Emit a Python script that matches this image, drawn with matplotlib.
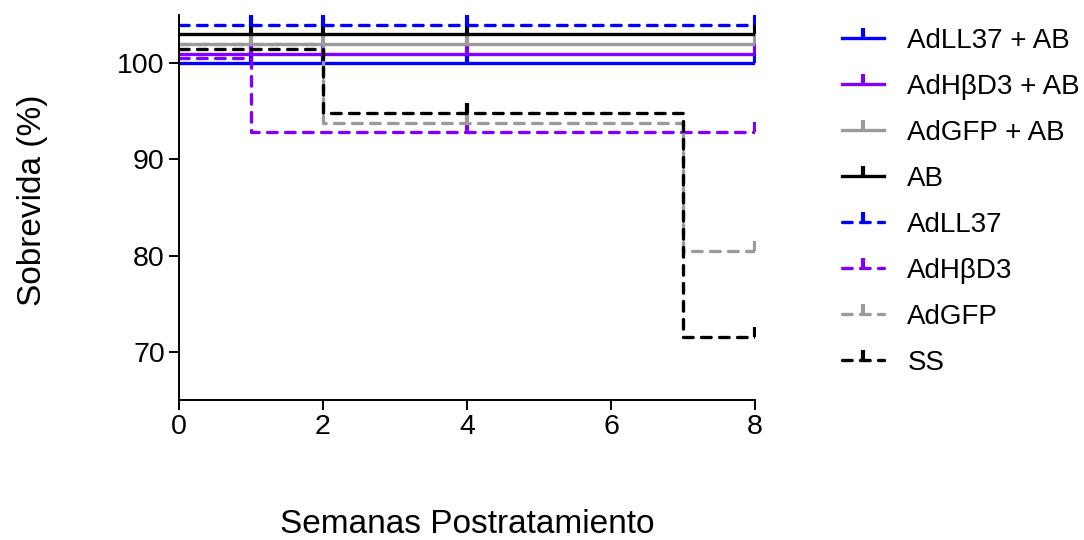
import matplotlib
matplotlib.use("Agg")
import matplotlib.pyplot as plt
import numpy as np
from matplotlib.path import Path
from matplotlib.legend_handler import HandlerTuple

plt.rcParams['font.family'] = ['Liberation Sans', 'DejaVu Sans']

# Kaplan-Meier data (survival %, value holds from each week until the next)
weeks = [0, 1, 2, 4, 7, 8]
groups = ["AdLL37 + AB", "AdH\u03b2D3 + AB", "AdGFP + AB", "AB",
          "AdLL37", "AdH\u03b2D3", "AdGFP", "SS"]
survival = [
    [100, 100, 100, 100, 100, 100],
    [100, 100, 100, 100, 100, 100],
    [100, 100, 100, 100, 100, 100],
    [100, 100, 100, 100, 100, 100],
    [100, 100, 100, 100, 100, 100],
    [100, 92.3, 92.3, 92.3, 92.3, 92.3],
    [100, 100, 91.8, 91.8, 78.5, 78.5],
    [100, 100, 93.3, 93.3, 70.0, 70.0],
]
censored = [
    [1, 2, 4, 8], [1, 2, 4, 8], [1, 2, 4, 8], [1, 2, 4, 8],
    [1, 2, 4, 8], [4, 8], [4, 8], [4, 8],
]

# style (Prism-like staggering of curves so they don't overlap)
offsets = [0, 1.0, 2.0, 3.0, 4.0, 0.5, 2.0, 1.5]
colors = ["#0000FF", "#7F00FF", "#9B9B9B", "#000000",
          "#0000FF", "#7F00FF", "#9B9B9B", "#000000"]
dashed = [False, False, False, False, True, True, True, True]

tick = Path([[0, 0], [0, 1]], [Path.MOVETO, Path.LINETO])

fig = plt.figure(figsize=(10.84, 5.4), dpi=100)
ax = fig.add_axes([179 / 1084, 1 - 400 / 540, 576 / 1084, 385 / 540])

handles = []
for i, name in enumerate(groups):
    y = np.array(survival[i]) + offsets[i]
    ls = (0, (2.9, 2.5)) if dashed[i] else "-"
    ln, = ax.step(weeks, y, where="post", color=colors[i], lw=2.4,
                  linestyle=ls, solid_joinstyle="round",
                  dash_capstyle="round", dash_joinstyle="round")
    cy = [y[np.searchsorted(weeks, c, side="right") - 1] for c in censored[i]]
    mk, = ax.plot(censored[i], cy, linestyle="none", marker=tick,
                  markersize=14.4, markeredgewidth=3.0,
                  markeredgecolor=colors[i], markerfacecolor="none")
    handles.append((ln, mk))

ax.set_xlim(0, 8)
ax.set_ylim(65, 105)
ax.set_xticks([0, 2, 4, 6, 8])
ax.set_yticks([70, 80, 90, 100])
for s in ["top", "right"]:
    ax.spines[s].set_visible(False)
for s in ["left", "bottom"]:
    ax.spines[s].set_linewidth(1.4)
ax.tick_params(labelsize=20.5, width=1.4, length=7.2, pad=3)

ax.set_ylabel("Sobrevida (%)", fontsize=24)
ax.yaxis.set_label_coords(-0.228, 0.52)
ax.set_xlabel("Semanas Postratamiento", fontsize=24)
ax.xaxis.set_label_coords(0.5, -0.283)

fig.legend(handles, groups, handler_map={tuple: HandlerTuple(ndivide=1)},
           loc="upper left", bbox_to_anchor=(842 / 1084, 1 - 28 / 540),
           frameon=False, fontsize=20, handlelength=1.5, handletextpad=0.85,
           labelspacing=0.72, borderpad=0, borderaxespad=0)

fig.savefig("out.png", dpi=100)
